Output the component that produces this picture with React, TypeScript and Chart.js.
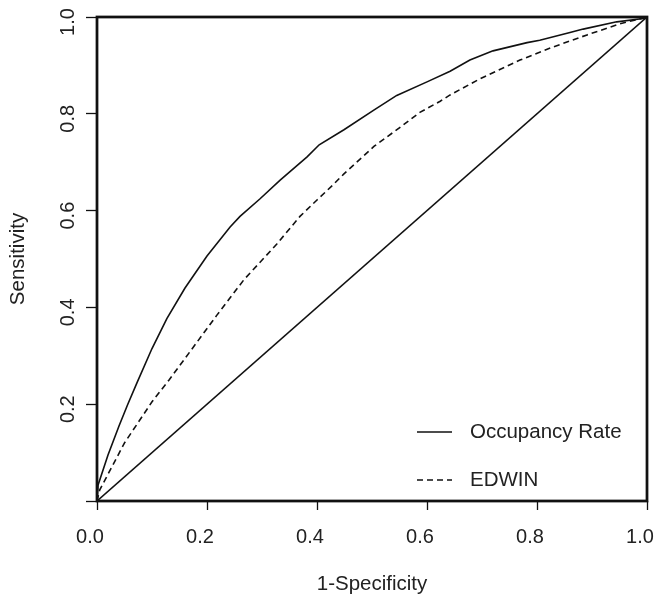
import React, { useEffect, useRef } from "react";
import { Chart, registerables } from "chart.js";

Chart.register(...registerables);

// ---- data ----
const occupancyX = [0, 0.002, 0.02, 0.04, 0.056, 0.073, 0.1, 0.127, 0.16, 0.2, 0.242, 0.26, 0.296, 0.333, 0.382, 0.404, 0.449, 0.504, 0.545, 0.6, 0.642, 0.678, 0.72, 0.782, 0.805, 0.86, 0.884, 0.945, 0.993, 1];
const occupancyY = [0, 0.033, 0.095, 0.155, 0.2, 0.245, 0.315, 0.377, 0.44, 0.506, 0.566, 0.588, 0.624, 0.663, 0.711, 0.736, 0.767, 0.808, 0.838, 0.866, 0.888, 0.911, 0.93, 0.947, 0.952, 0.968, 0.975, 0.99, 0.997, 1];

const edwinX = [0, 0.005, 0.05, 0.1, 0.131, 0.17, 0.218, 0.267, 0.327, 0.369, 0.4, 0.429, 0.449, 0.504, 0.551, 0.587, 0.624, 0.642, 0.696, 0.769, 0.829, 0.891, 0.951, 1];
const edwinY = [0, 0.023, 0.12, 0.205, 0.25, 0.31, 0.384, 0.457, 0.531, 0.588, 0.622, 0.653, 0.676, 0.733, 0.772, 0.803, 0.826, 0.839, 0.872, 0.911, 0.938, 0.963, 0.986, 1];

const referenceX = [0, 1];
const referenceY = [0, 1];

const seriesNames = ["Occupancy Rate", "EDWIN"];
const xTickValues = [0, 0.2, 0.4, 0.6, 0.8, 1.0];
const yTickValues = [0, 0.2, 0.4, 0.6, 0.8, 1.0];
const yLabelledTicks = [0.2, 0.4, 0.6, 0.8, 1.0];
const xTitle = "1-Specificity";
const yTitle = "Sensitivity";

const FONT = "'Liberation Sans', Arial, Helvetica, sans-serif";
const INK = "#111";
const TEXT = "#222";

const toPoints = (xs: number[], ys: number[]) => xs.map((x, i) => ({ x, y: ys[i] }));

const framePlugin = {
  id: "frame",
  afterDatasetsDraw(chart: any) {
    const { ctx, chartArea } = chart;
    ctx.save();
    ctx.strokeStyle = INK;
    ctx.lineWidth = 2.75;
    ctx.strokeRect(chartArea.left, chartArea.top, chartArea.right - chartArea.left, chartArea.bottom - chartArea.top);
    ctx.restore();
  },
};

const yLabelPlugin = {
  id: "yLabels",
  afterDraw(chart: any) {
    const { ctx } = chart;
    const y = chart.scales.y;
    ctx.save();
    ctx.fillStyle = TEXT;
    ctx.font = `20px ${FONT}`;
    ctx.textAlign = "center";
    ctx.textBaseline = "middle";
    yLabelledTicks.forEach((v) => {
      const py = y.getPixelForValue(v) + 5;
      ctx.save();
      ctx.translate(68, py);
      ctx.rotate(-Math.PI / 2);
      ctx.fillText(v.toFixed(1), 0, 0);
      ctx.restore();
    });
    ctx.restore();
  },
};

const legendPlugin = {
  id: "innerLegend",
  afterDraw(chart: any) {
    const { ctx, chartArea } = chart;
    const rows = [chartArea.bottom - 69, chartArea.bottom - 21];
    ctx.save();
    ctx.font = `20.5px ${FONT}`;
    ctx.textAlign = "left";
    ctx.textBaseline = "middle";
    seriesNames.forEach((name, i) => {
      const ds = chart.data.datasets[i];
      const yy = rows[i];
      ctx.beginPath();
      ctx.strokeStyle = ds.borderColor;
      ctx.lineWidth = ds.borderWidth;
      ctx.setLineDash(ds.borderDash || []);
      ctx.moveTo(chartArea.right - 230, yy);
      ctx.lineTo(chartArea.right - 195, yy);
      ctx.stroke();
      ctx.setLineDash([]);
      ctx.fillStyle = TEXT;
      ctx.fillText(name, chartArea.right - 177, yy);
    });
    ctx.restore();
  },
};

export default function App() {
  const ref = useRef<HTMLCanvasElement | null>(null);

  useEffect(() => {
    if (!ref.current) return;
    const chart = new Chart(ref.current, {
      type: "scatter",
      data: {
        datasets: [
          {
            label: seriesNames[0],
            data: toPoints(occupancyX, occupancyY),
            showLine: true,
            borderColor: INK,
            borderWidth: 1.6,
            pointRadius: 0,
            tension: 0,
            fill: false,
          },
          {
            label: seriesNames[1],
            data: toPoints(edwinX, edwinY),
            showLine: true,
            borderColor: INK,
            borderWidth: 1.6,
            borderDash: [6, 4],
            pointRadius: 0,
            tension: 0,
            fill: false,
          },
          {
            label: "reference",
            data: toPoints(referenceX, referenceY),
            showLine: true,
            borderColor: INK,
            borderWidth: 1.6,
            pointRadius: 0,
            fill: false,
          },
        ],
      },
      options: {
        responsive: false,
        animation: false,
        devicePixelRatio: 1,
        layout: { padding: { left: 0, top: 17, right: 9, bottom: 0 } },
        plugins: {
          legend: { display: false },
          tooltip: { enabled: false },
        },
        scales: {
          x: {
            type: "linear",
            min: 0,
            max: 1,
            afterBuildTicks: (s: any) => {
              s.ticks = xTickValues.map((value) => ({ value }));
            },
            afterFit: (s: any) => {
              s.height = 99;
              s.paddingLeft = 0;
              s.paddingRight = 0;
            },
            border: { display: false },
            grid: {
              drawOnChartArea: false,
              drawTicks: true,
              tickLength: 9,
              tickWidth: 1.3,
              tickColor: INK,
            },
            ticks: {
              color: TEXT,
              font: { family: FONT, size: 20 },
              padding: 15,
              labelOffset: -7,
              maxRotation: 0,
              minRotation: 0,
              autoSkip: false,
              callback: (v: any) => Number(v).toFixed(1),
            },
            title: {
              display: true,
              text: xTitle,
              color: TEXT,
              font: { family: FONT, size: 20.5 },
              padding: { top: 0, bottom: 3 },
            },
          },
          y: {
            type: "linear",
            min: 0,
            max: 1,
            afterBuildTicks: (s: any) => {
              s.ticks = yTickValues.map((value) => ({ value }));
            },
            afterFit: (s: any) => {
              s.width = 97;
              s.paddingTop = 0;
              s.paddingBottom = 0;
            },
            border: { display: false },
            grid: {
              drawOnChartArea: false,
              drawTicks: true,
              tickLength: 11,
              tickWidth: 1.3,
              tickColor: INK,
            },
            ticks: { display: false },
            title: {
              display: true,
              text: yTitle,
              color: TEXT,
              font: { family: FONT, size: 20.5 },
              padding: { top: 6, bottom: 0 },
            },
          },
        },
      },
      plugins: [framePlugin, yLabelPlugin, legendPlugin],
    } as any);
    return () => chart.destroy();
  }, []);

  return (
    <canvas
      ref={ref}
      width={656}
      height={600}
      style={{ position: "fixed", left: 0, top: 0, width: 656, height: 600, display: "block", background: "#fff" }}
    />
  );
}
